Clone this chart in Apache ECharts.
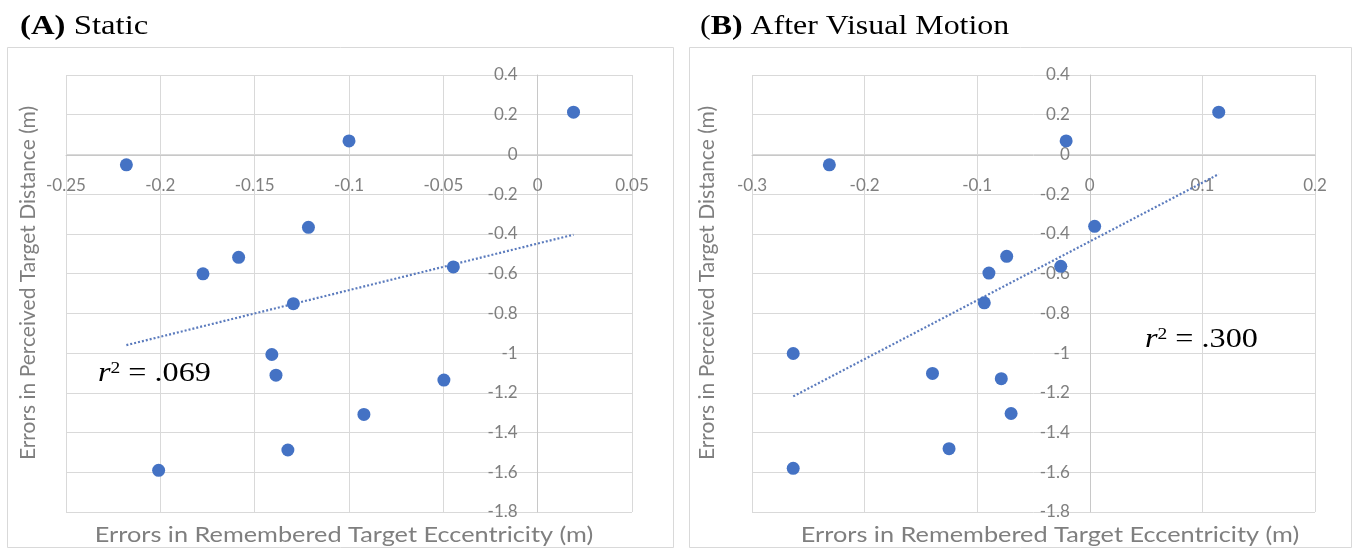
<!DOCTYPE html>
<html>
<head>
<meta charset="utf-8">
<script src="https://cdn.jsdelivr.net/npm/echarts@6/dist/echarts.min.js"></script>
<style>html,body{margin:0;padding:0;background:#fff;}#c{width:1354px;height:550px;}</style>
</head>
<body>
<div id="c"></div>
<script>
// Panel A (Static)
const aX = [-0.218, -0.100, 0.019, -0.1215, -0.1585, -0.1774, -0.0447, -0.1295, -0.1409, -0.1387, -0.0497, -0.0921, -0.1324, -0.2009];
const aY = [-0.052, 0.068, 0.213, -0.367, -0.518, -0.601, -0.566, -0.751, -1.007, -1.111, -1.136, -1.309, -1.488, -1.590];
const aTrendX = [-0.218, 0.019];
const aTrendY = [-0.960, -0.404];
// Panel B (After Visual Motion)
const bX = [-0.2313, -0.021, 0.1145, 0.0043, -0.0738, -0.0896, -0.0258, -0.0937, -0.2634, -0.1397, -0.0786, -0.0699, -0.125, -0.2634];
const bY = [-0.052, 0.068, 0.213, -0.362, -0.513, -0.597, -0.563, -0.747, -1.002, -1.1025, -1.129, -1.304, -1.481, -1.580];
const bTrendX = [-0.2634, 0.1145];
const bTrendY = [-1.218, -0.099];
// Tick values
const aXTicks = [-0.25, -0.2, -0.15, -0.1, -0.05, 0, 0.05];
const bXTicks = [-0.3, -0.2, -0.1, 0, 0.1, 0.2];
const yTicks = [0.4, 0.2, 0, -0.2, -0.4, -0.6, -0.8, -1, -1.2, -1.4, -1.6, -1.8];
const titleA = 'Static', titleB = 'After Visual Motion';
const r2A = '.069', r2B = '.300';
const xTitle = 'Errors in Remembered Target Eccentricity (m)';
const yTitle = 'Errors in Perceived Target Distance (m)';

const zip = (xs, ys) => xs.map((x, i) => [x, ys[i]]);
const blue = '#4472C4';
const gridCol = '#d9d9d9';
const labCol = '#7f7f7f';
const labFont = 'Lato, "Open Sans", sans-serif';
const fmt = v => String(parseFloat(Number(v).toFixed(6)));

function xAxisFor(ticks, gi) {
  return {
    type: 'value', gridIndex: gi,
    min: ticks[0], max: ticks[ticks.length - 1], interval: ticks[1] - ticks[0],
    axisLine: { show: true, onZero: false, lineStyle: { color: '#c8c8c8', width: 1 } },
    axisTick: { show: false },
    axisLabel: { color: labCol, fontSize: 17, fontFamily: labFont, margin: 22, formatter: fmt },
    splitLine: { show: true, lineStyle: { color: gridCol, width: 1 } }
  };
}
function yAxisFor(gi) {
  return {
    type: 'value', gridIndex: gi,
    min: yTicks[yTicks.length - 1], max: yTicks[0], interval: yTicks[0] - yTicks[1],
    axisLine: { show: true, onZero: false, lineStyle: { color: '#c8c8c8', width: 1 } },
    axisTick: { show: false },
    axisLabel: { color: labCol, fontSize: 17, fontFamily: labFont, margin: 20, formatter: fmt },
    splitLine: { show: true, lineStyle: { color: gridCol, width: 1 } }
  };
}

const chart = echarts.init(document.getElementById('c'), null, { renderer: 'canvas' });
const serif = '"Liberation Serif", "Times New Roman", serif';

function r2Text(x, y, val) {
  return {
    type: 'text', x: x, y: y, scaleX: 1.15, z: 100,
    style: {
      text: '{i|r}{s|2}{n| = ' + val + '}',
      verticalAlign: 'middle', align: 'left',
      rich: {
        i: { fontFamily: serif, fontStyle: 'italic', fontSize: 28, fill: '#000' },
        s: { fontFamily: serif, fontSize: 17, fill: '#000', verticalAlign: 'top', padding: [0, 0, 6, 0] },
        n: { fontFamily: serif, fontSize: 28, fill: '#000' }
      }
    }
  };
}

const option = {
  backgroundColor: '#fff',
  animation: false,
  grid: [
    { left: 66, top: 75, width: 566, height: 437 },
    { left: 752, top: 75, width: 563, height: 437 }
  ],
  xAxis: [xAxisFor(aXTicks, 0), xAxisFor(bXTicks, 1)],
  yAxis: [yAxisFor(0), yAxisFor(1)],
  series: [
    { type: 'line', xAxisIndex: 0, yAxisIndex: 0, data: zip(aTrendX, aTrendY), symbol: 'none',
      lineStyle: { color: '#5b7bbd', width: 2.2, type: [2, 2] }, z: 2 },
    { type: 'scatter', xAxisIndex: 0, yAxisIndex: 0, data: zip(aX, aY), symbolSize: 13,
      itemStyle: { color: blue, opacity: 1 }, z: 3 },
    { type: 'line', xAxisIndex: 1, yAxisIndex: 1, data: zip(bTrendX, bTrendY), symbol: 'none',
      lineStyle: { color: '#5b7bbd', width: 2.2, type: [2, 2] }, z: 2 },
    { type: 'scatter', xAxisIndex: 1, yAxisIndex: 1, data: zip(bX, bY), symbolSize: 13,
      itemStyle: { color: blue, opacity: 1 }, z: 3 }
  ],
  graphic: [
    { type: 'rect', shape: { x: 7.5, y: 47.5, width: 666, height: 500 }, style: { fill: 'none', stroke: gridCol, lineWidth: 1 }, z: -1 },
    { type: 'rect', shape: { x: 689.5, y: 47.5, width: 662, height: 500 }, style: { fill: 'none', stroke: gridCol, lineWidth: 1 }, z: -1 },
    { type: 'text', x: 20, y: 27, scaleX: 1.17,
      style: { text: '{b|(A)} ' + titleA, fontFamily: serif, fontSize: 28, fill: '#000', verticalAlign: 'middle',
        rich: { b: { fontFamily: serif, fontSize: 28, fontWeight: 'bold', fill: '#000' } } } },
    { type: 'text', x: 700, y: 27, scaleX: 1.14,
      style: { text: '({b|B)} ' + titleB, fontFamily: serif, fontSize: 28, fill: '#000', verticalAlign: 'middle',
        rich: { b: { fontFamily: serif, fontSize: 28, fontWeight: 'bold', fill: '#000' } } } },
    r2Text(98, 374, r2A),
    r2Text(1145, 340, r2B),
    { type: 'text', x: 344, y: 535, scaleX: 1.15,
      style: { text: xTitle, fontFamily: labFont, fontSize: 22, fill: labCol, align: 'center', verticalAlign: 'middle' } },
    { type: 'text', x: 1050, y: 535, scaleX: 1.15,
      style: { text: xTitle, fontFamily: labFont, fontSize: 22, fill: labCol, align: 'center', verticalAlign: 'middle' } },
    { type: 'text', x: 28, y: 283, rotation: Math.PI / 2,
      style: { text: yTitle, fontFamily: labFont, fontSize: 21, fill: labCol, align: 'center', verticalAlign: 'middle' } },
    { type: 'text', x: 707, y: 283, rotation: Math.PI / 2,
      style: { text: yTitle, fontFamily: labFont, fontSize: 21, fill: labCol, align: 'center', verticalAlign: 'middle' } }
  ]
};
chart.setOption(option);

// Move each axis (line + labels) onto the other axis's zero, using the library's own scales.
const xMins = [aXTicks[0], bXTicks[0]];
const yMin = yTicks[yTicks.length - 1];
const xOff = [], yOff = [];
for (let g = 0; g < 2; g++) {
  const pZero = chart.convertToPixel({ gridIndex: g }, [0, 0]);
  const pMin = chart.convertToPixel({ gridIndex: g }, [xMins[g], yMin]);
  yOff.push({ offset: -(pZero[0] - pMin[0]) });
  xOff.push({ offset: -(pMin[1] - pZero[1]) });
}
chart.setOption({ xAxis: xOff, yAxis: yOff });
</script>
</body>
</html>
